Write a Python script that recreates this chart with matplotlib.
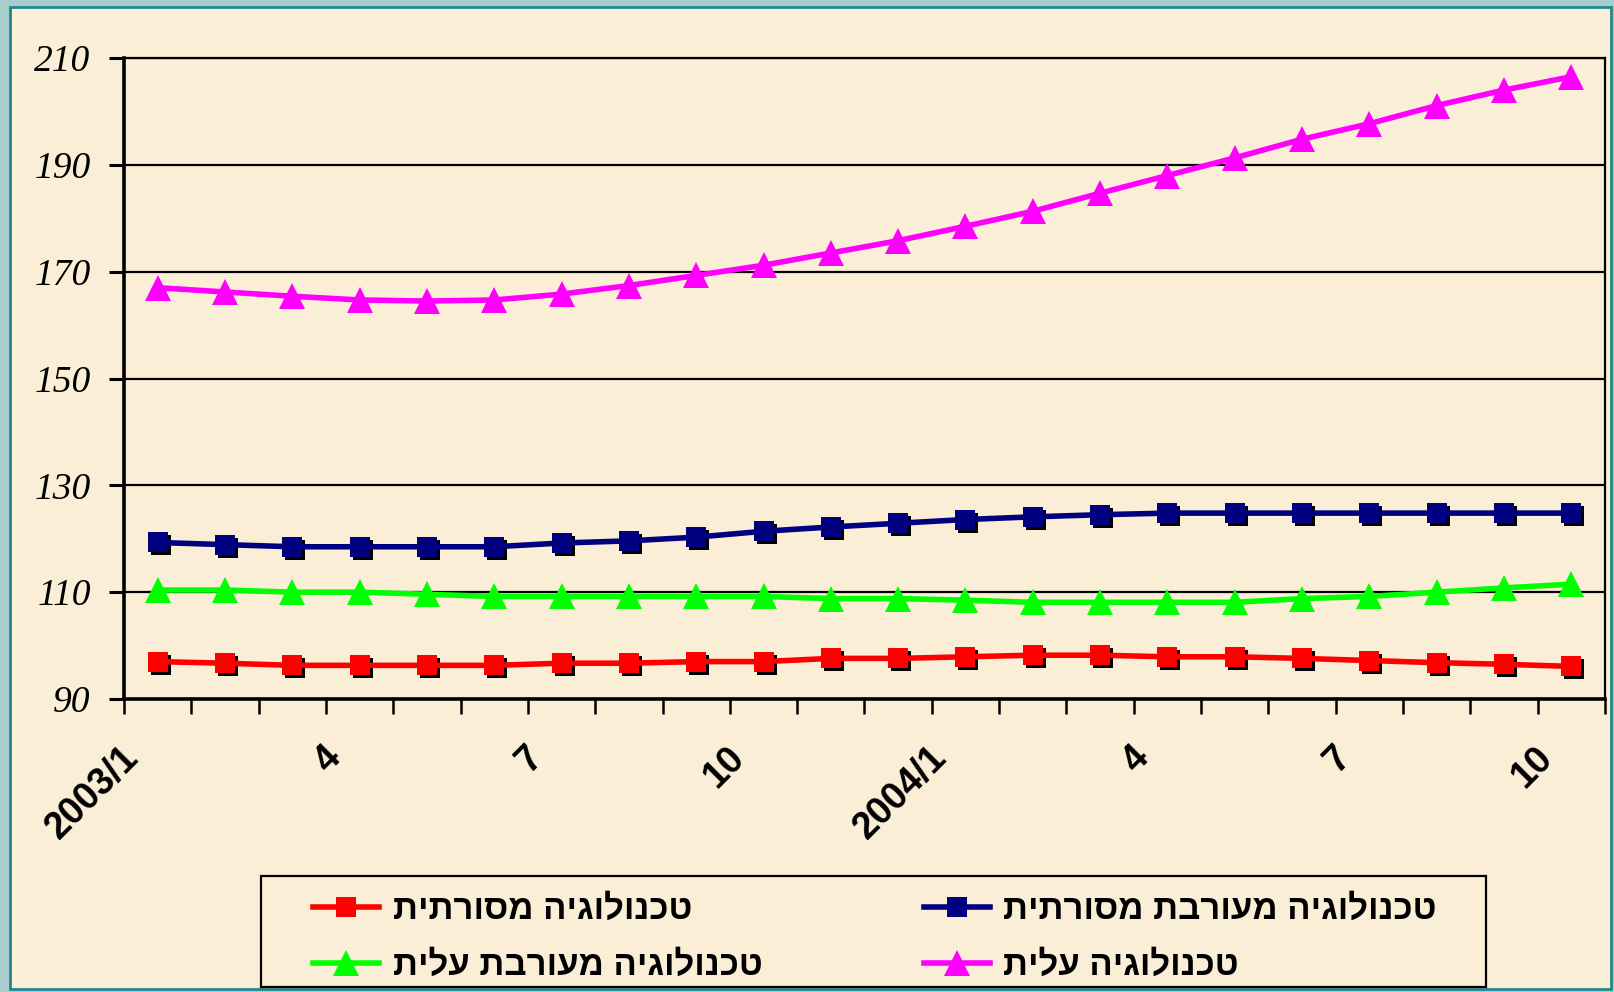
import numpy as np
import matplotlib
matplotlib.use('Agg')
import matplotlib.pyplot as plt
from matplotlib.lines import Line2D
from matplotlib.patches import Rectangle
from matplotlib.transforms import ScaledTranslation

# ---------------- data ----------------
months = ['2003/1', '2', '3', '4', '5', '6', '7', '8', '9', '10', '11', '12',
          '2004/1', '2', '3', '4', '5', '6', '7', '8', '9', '10']
label_months = [0, 3, 6, 9, 12, 15, 18, 21]

traditional = [97.0, 96.7, 96.3, 96.3, 96.3, 96.3, 96.7, 96.7, 97.0, 97.0, 97.6,
               97.6, 97.9, 98.2, 98.2, 97.9, 97.9, 97.6, 97.2, 96.8, 96.5, 96.1]
mixed_traditional = [119.3, 118.9, 118.5, 118.5, 118.5, 118.5, 119.2, 119.6, 120.3, 121.4, 122.2,
                     122.9, 123.6, 124.1, 124.5, 124.8, 124.8, 124.8, 124.8, 124.8, 124.8, 124.8]
mixed_high = [110.4, 110.4, 110.0, 110.0, 109.6, 109.2, 109.2, 109.2, 109.2, 109.2, 108.8,
              108.8, 108.5, 108.1, 108.1, 108.1, 108.1, 108.8, 109.2, 110.0, 110.8, 111.5]
high = [167.0, 166.2, 165.4, 164.7, 164.5, 164.7, 165.8, 167.4, 169.3, 171.2, 173.5,
        175.8, 178.5, 181.3, 184.7, 188.0, 191.3, 194.8, 197.7, 201.1, 204.0, 206.5]

names = ['טכנולוגיה מסורתית', 'טכנולוגיה מעורבת מסורתית',
         'טכנולוגיה מעורבת עלית', 'טכנולוגיה עלית']
yticks = [90, 110, 130, 150, 170, 190, 210]


def visual(s):
    # matplotlib has no bidi support: give the glyphs in visual (RTL) order
    return s[::-1]


W, H = 1615, 992
fig = plt.figure(figsize=(W / 100, H / 100), dpi=100)
fig.patch.set_facecolor('#A8CDCF')

# beige panel with teal frame
panel = Rectangle((10 / W, 3 / H), (1611 - 10) / W, (985 - 3) / H,
                  transform=fig.transFigure, facecolor='#FAEED6',
                  edgecolor='#23878A', linewidth=2.0, zorder=0)
fig.add_artist(panel)

ax = fig.add_axes([124 / W, 1 - 699 / H, (1605 - 124) / W, (699 - 58) / H])
ax.set_facecolor('none')

x = np.arange(len(months))
ax.set_xlim(-0.5, len(months) - 0.5)
ax.set_ylim(90, 210)

# gridlines
ax.set_yticks(yticks)
ax.yaxis.grid(True, color='black', linewidth=1.6)
ax.set_axisbelow(True)

shadow = ax.transData + ScaledTranslation(3 / 100, -3 / 100, fig.dpi_scale_trans)

lw = 4.0
series = [
    (traditional, '#FF0000', 's', 14),
    (mixed_traditional, '#000080', 's', 14),
    (mixed_high, '#00FF00', '^', 19),
    (high, '#FF00FF', '^', 19),
]
for vals, col, mk, ms in series:
    if mk == 's':
        ax.plot(x, vals, linestyle='none', marker=mk, markersize=ms, color='black',
                markeredgewidth=0, transform=shadow, zorder=3, clip_on=False)
    ax.plot(x, vals, color=col, linewidth=lw, marker=mk, markersize=ms,
            markeredgewidth=0, zorder=4, clip_on=False)

# spines
for s in ['left', 'bottom']:
    ax.spines[s].set_linewidth(2.6)
for s in ['top', 'right']:
    ax.spines[s].set_linewidth(1.6)

# y ticks
ax.tick_params(axis='y', direction='out', length=11, width=2.2, pad=13)
for lab in ax.get_yticklabels():
    lab.set_fontfamily('Liberation Serif')
    lab.set_fontstyle('italic')
    lab.set_fontsize(27)

# x ticks: labels on categories, tick marks between categories
ax.set_xticks(label_months)
ax.set_xticklabels([months[i] for i in label_months], rotation=45,
                   ha='right', va='top', fontsize=27, fontweight='bold',
                   fontfamily='Liberation Sans')
ax.tick_params(axis='x', which='major', length=0, pad=29)
ax.set_xticks(np.arange(-0.5, len(months), 1.0), minor=True)
ax.tick_params(axis='x', which='minor', direction='out', length=11, width=1.8)
off = ScaledTranslation(-12 / 100, 0, fig.dpi_scale_trans)
for lab in ax.get_xticklabels():
    lab.set_transform(lab.get_transform() + off)

# legend
leg_handles = [Line2D([], [], color=c, linewidth=lw, marker=m, markersize=ms,
                      markeredgewidth=0) for (_, c, m, ms) in series]
order = [0, 2, 1, 3]
fig.legend([leg_handles[i] for i in order], [visual(names[i]) for i in order],
           ncol=2, mode='expand', loc='center',
           bbox_to_anchor=(313 / W, 1 - 993 / H, (1437 - 313) / W, (993 - 882) / H),
           frameon=False, borderpad=0, borderaxespad=0,
           handlelength=1.9, handletextpad=0.4, labelspacing=0.65,
           prop={'family': ['Liberation Sans', 'DejaVu Sans'],
                 'weight': 'bold', 'size': 25})
fig.add_artist(Rectangle((261 / W, 1 - 987 / H), (1486 - 261) / W, (987 - 876) / H,
                         transform=fig.transFigure, facecolor='none',
                         edgecolor='black', linewidth=1.6, zorder=5))

fig.savefig('out.png', dpi=100, facecolor=fig.get_facecolor())
